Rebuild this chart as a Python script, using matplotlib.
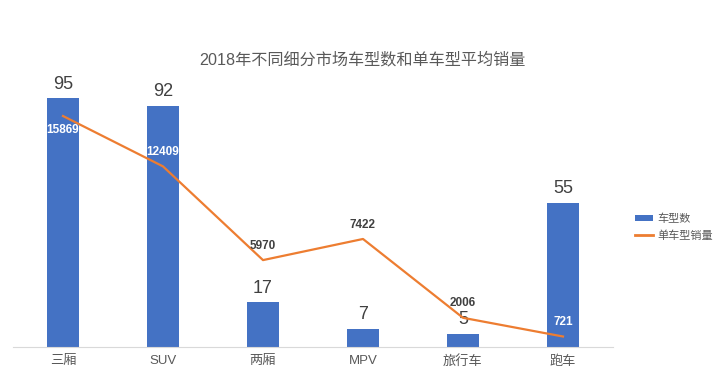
import matplotlib
matplotlib.use("Agg")
import matplotlib.pyplot as plt
from matplotlib.patches import Patch
from matplotlib.lines import Line2D

plt.rcParams['font.family'] = ['Liberation Sans', 'Noto Sans CJK SC', 'DejaVu Sans']

# data
categories = ['三厢', 'SUV', '两厢', 'MPV', '旅行车', '跑车']
model_counts = [95, 92, 17, 7, 5, 55]
avg_sales = [15869, 12409, 5970, 7422, 2006, 721]
# label placement for the line values: below the point or above it
sales_label_pos = ['below', 'above', 'above', 'above', 'above', 'above']
sales_label_white = [True, True, False, False, False, True]

bar_color = '#4472C4'
line_color = '#ED7D31'
text_color = '#595959'

fig = plt.figure(figsize=(7.25, 3.92), dpi=100)
ax = fig.add_axes([13 / 725, 45 / 392, 600 / 725, 262 / 392])
ax2 = ax.twinx()

x = range(len(categories))
bars = ax.bar(x, model_counts, width=0.32, color=bar_color, zorder=2)
ax.set_ylim(0, 100)
ax.set_xlim(-0.5, len(categories) - 0.5)

for xi, v in zip(x, model_counts):
    ax.annotate(str(v), (xi, v), xytext=(0, 4), textcoords='offset points',
                ha='center', va='bottom', fontsize=13, color='#404040')

ax2.plot(x, avg_sales, color=line_color, linewidth=1.6, zorder=3)
ax2.set_ylim(0, 18000)

for xi, v, pos, white in zip(x, avg_sales, sales_label_pos, sales_label_white):
    dy = -6 if pos == 'below' else 6
    va = 'top' if pos == 'below' else 'bottom'
    ax2.annotate(str(v), (xi, v), xytext=(0, dy), textcoords='offset points',
                 ha='center', va=va, fontsize=8.5, fontweight='bold',
                 color='white' if white else '#404040')

for a in (ax, ax2):
    for side in ('top', 'right', 'left'):
        a.spines[side].set_visible(False)
    a.set_yticks([])
ax2.spines['bottom'].set_visible(False)
ax.spines['bottom'].set_color('#D9D9D9')

ax.set_xticks(list(x))
ax.set_xticklabels(categories, fontsize=9.5, color=text_color)
ax.tick_params(axis='x', length=0, pad=6)

fig.text(0.5, 1 - 60 / 392, '2018年不同细分市场车型数和单车型平均销量',
         ha='center', va='center', fontsize=11.6, color=text_color)

handles = [Patch(facecolor=bar_color, label='车型数'),
           Line2D([0], [0], color=line_color, linewidth=2, label='单车型销量')]
fig.legend(handles=handles, loc='center left', bbox_to_anchor=(625 / 725, 1 - 227 / 392),
           frameon=False, fontsize=8, labelcolor=text_color,
           handlelength=1.6, handleheight=0.5, handletextpad=0.4, labelspacing=0.6)

fig.savefig('out.png', dpi=100)
